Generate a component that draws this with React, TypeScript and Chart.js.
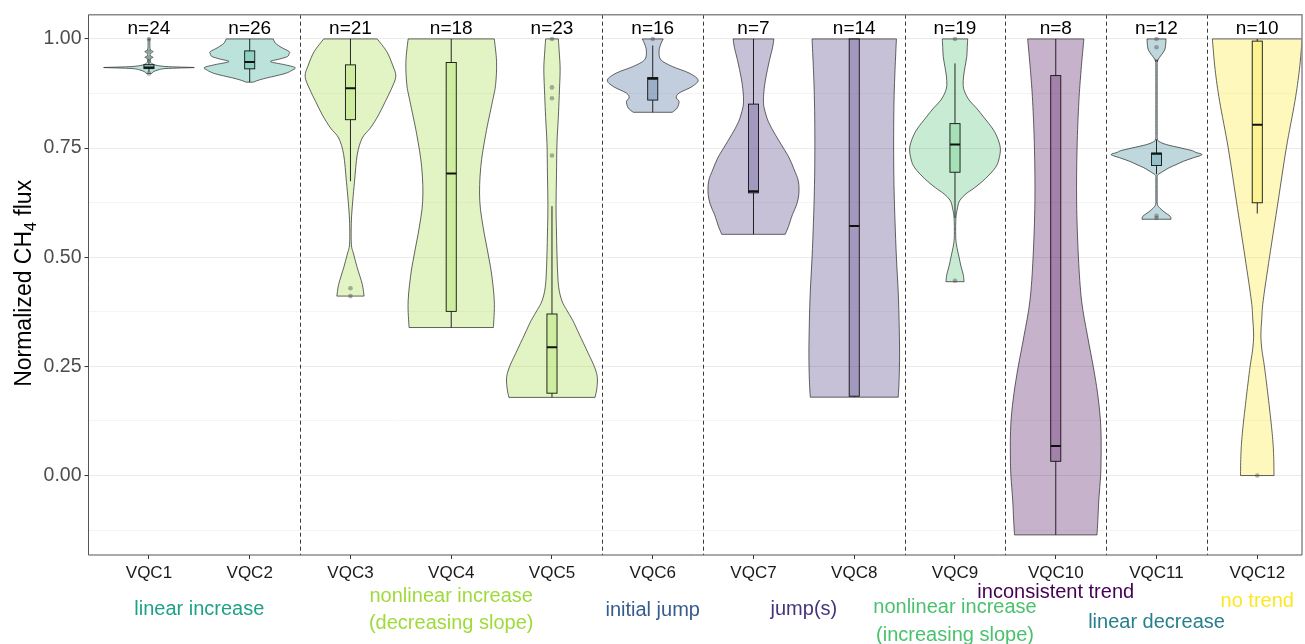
import React, { useEffect, useRef } from "react";
import { Chart, registerables } from "chart.js";

Chart.register(...registerables);

// ---------- data ----------
const categories = ["VQC1", "VQC2", "VQC3", "VQC4", "VQC5", "VQC6", "VQC7", "VQC8", "VQC9", "VQC10", "VQC11", "VQC12"];
const sampleSizes = [24, 26, 21, 18, 23, 16, 7, 14, 19, 8, 12, 10];

const trendNames = [
  "linear increase",
  "nonlinear increase (decreasing slope)",
  "initial jump",
  "jump(s)",
  "nonlinear increase (increasing slope)",
  "inconsistent trend",
  "linear decrease",
  "no trend",
];
const trendLabelLines = [
  ["linear increase"],
  ["nonlinear increase", "(decreasing slope)"],
  ["initial jump"],
  ["jump(s)"],
  ["nonlinear increase", "(increasing slope)"],
  ["inconsistent trend"],
  ["linear decrease"],
  ["no trend"],
];
const trendColors = ["#1FA187", "#9FDA3A", "#365C8D", "#46337E", "#4AC16D", "#440154", "#277F8E", "#FDE725"];
const categoryTrend = [0, 0, 1, 1, 1, 2, 3, 3, 4, 5, 6, 7];

// violin outlines: [normalized flux, relative density (1 = widest)]
const densityVQC1 = [[0.921, 0.06], [0.925, 0.1], [0.929, 0.2], [0.932, 0.35], [0.9335, 0.7], [0.9345, 1.0], [0.9355, 0.7], [0.937, 0.35], [0.94, 0.15], [0.944, 0.06], [0.949, 0.03], [0.955, 0.04], [0.958, 0.09], [0.961, 0.04], [0.966, 0.03], [0.971, 0.09], [0.975, 0.03], [0.985, 0.02], [1.0, 0.02]];
const densityVQC2 = [[0.901, 0.08], [0.905, 0.18], [0.91, 0.35], [0.916, 0.6], [0.9215, 0.8], [0.928, 0.93], [0.9345, 1.0], [0.941, 0.77], [0.948, 0.46], [0.954, 0.66], [0.9596, 0.83], [0.966, 0.87], [0.971, 0.87], [0.98, 0.71], [0.99, 0.57], [1.0, 0.52]];
const densityVQC3 = [[0.411, 0.3], [0.438, 0.26], [0.476, 0.15], [0.507, 0.07], [0.53, 0.02], [0.583, 0.02], [0.628, 0.05], [0.674, 0.09], [0.735, 0.15], [0.773, 0.26], [0.796, 0.44], [0.826, 0.62], [0.857, 0.77], [0.885, 0.9], [0.914, 1.0], [0.94, 0.93], [0.971, 0.8], [1.0, 0.59]];
const densityVQC4 = [[0.339, 0.93], [0.4, 0.95], [0.476, 0.87], [0.553, 0.73], [0.628, 0.63], [0.705, 0.65], [0.781, 0.76], [0.857, 0.91], [0.896, 0.98], [0.948, 1.0], [1.0, 0.95]];
const densityVQC5 = [[0.179, 0.95], [0.2, 0.99], [0.225, 1.0], [0.248, 0.94], [0.28, 0.8], [0.324, 0.6], [0.355, 0.46], [0.38, 0.32], [0.4, 0.22], [0.43, 0.15], [0.476, 0.12], [0.553, 0.1], [0.62, 0.09], [0.69, 0.1], [0.76, 0.11], [0.82, 0.14], [0.87, 0.16], [0.93, 0.18], [0.97, 0.16], [1.0, 0.14]];
const densityVQC6 = [[0.832, 0.43], [0.842, 0.54], [0.857, 0.58], [0.865, 0.52], [0.876, 0.58], [0.891, 0.87], [0.906, 1.0], [0.922, 0.8], [0.937, 0.43], [0.952, 0.18], [0.971, 0.14], [0.986, 0.17], [1.0, 0.23]];
const densityVQC7 = [[0.5525, 0.7], [0.57, 0.77], [0.598, 0.86], [0.62, 0.95], [0.644, 1.0], [0.674, 0.99], [0.7, 0.9], [0.727, 0.79], [0.75, 0.66], [0.781, 0.48], [0.81, 0.33], [0.84, 0.24], [0.857, 0.22], [0.88, 0.23], [0.91, 0.27], [0.95, 0.35], [0.98, 0.42], [1.0, 0.45]];
const densityVQC8 = [[0.1795, 0.97], [0.22, 0.99], [0.28, 1.0], [0.35, 0.99], [0.42, 0.97], [0.5, 0.93], [0.58, 0.9], [0.65, 0.88], [0.72, 0.87], [0.8, 0.87], [0.87, 0.88], [0.93, 0.9], [1.0, 0.93]];
const densityVQC9 = [[0.444, 0.2], [0.461, 0.18], [0.48, 0.13], [0.5, 0.09], [0.514, 0.06], [0.53, 0.03], [0.55, 0.015], [0.59, 0.02], [0.61, 0.05], [0.629, 0.1], [0.645, 0.24], [0.659, 0.43], [0.68, 0.67], [0.705, 0.89], [0.725, 0.97], [0.75, 1.0], [0.775, 0.93], [0.796, 0.82], [0.82, 0.64], [0.842, 0.47], [0.86, 0.31], [0.88, 0.21], [0.895, 0.18], [0.915, 0.19], [0.935, 0.22], [0.96, 0.26], [0.98, 0.27], [1.0, 0.28]];
const densityVQC10 = [[-0.136, 0.91], [-0.1, 0.93], [-0.056, 0.95], [0.0, 0.99], [0.04, 1.0], [0.09, 1.0], [0.134, 0.98], [0.19, 0.92], [0.248, 0.83], [0.32, 0.7], [0.4, 0.57], [0.5, 0.5], [0.628, 0.46], [0.75, 0.47], [0.857, 0.51], [0.93, 0.56], [1.0, 0.62]];
const densityVQC11 = [[0.587, 0.32], [0.594, 0.3], [0.603, 0.18], [0.612, 0.08], [0.621, 0.02], [0.64, 0.015], [0.68, 0.015], [0.688, 0.025], [0.697, 0.15], [0.705, 0.28], [0.712, 0.43], [0.72, 0.6], [0.727, 0.79], [0.735, 1.0], [0.74, 0.87], [0.744, 0.79], [0.75, 0.55], [0.758, 0.22], [0.765, 0.06], [0.772, 0.02], [0.8, 0.015], [0.94, 0.015], [0.948, 0.02], [0.957, 0.06], [0.965, 0.12], [0.975, 0.18], [0.985, 0.2], [1.0, 0.21]];
const densityVQC12 = [[0.0, 0.37], [0.05, 0.36], [0.096, 0.33], [0.172, 0.25], [0.248, 0.16], [0.29, 0.1], [0.324, 0.08], [0.36, 0.1], [0.4, 0.13], [0.5, 0.27], [0.628, 0.46], [0.75, 0.64], [0.857, 0.83], [0.93, 0.93], [1.0, 0.99]];

const violinDensities = [densityVQC1, densityVQC2, densityVQC3, densityVQC4, densityVQC5, densityVQC6, densityVQC7, densityVQC8, densityVQC9, densityVQC10, densityVQC11, densityVQC12];

// boxplot statistics
const boxLower = [0.932, 0.9315, 0.815, 0.376, 0.1886, 0.86, 0.6475, 0.1817, 0.6947, 0.0326, 0.71, 0.6247];
const boxMedian = [0.9345, 0.9474, 0.887, 0.692, 0.2936, 0.9087, 0.651, 0.5715, 0.758, 0.0676, 0.737, 0.8037];
const boxUpper = [0.941, 0.9726, 0.9406, 0.946, 0.37, 0.9116, 0.8507, 1.0, 0.806, 0.916, 0.7386, 0.995];
const whiskerLow = [0.925, 0.901, 0.674, 0.339, 0.179, 0.832, 0.5525, 0.1795, 0.59, -0.136, 0.69, 0.6];
const whiskerHigh = [0.954, 1.0, 1.0, 1.0, 0.617, 0.985, 1.0, 1.0, 0.944, 1.0, 0.77, 1.0];
const outlierValues = [[1.0, 0.971, 0.958, 0.921], [], [0.429, 0.411], [], [1.0, 0.889, 0.864, 0.733], [1.0], [], [], [1.0, 0.446], [], [1.0, 0.981, 0.595, 0.59], [0.0]];

const yTickValues = [-0.125, 0, 0.125, 0.25, 0.375, 0.5, 0.625, 0.75, 0.875, 1.0];

// ---------- layout / style ----------
const FONT = '"Liberation Sans", Arial, sans-serif';
const VIOLIN_HALF = 0.45;
const BOX_HALF = 0.05;
const trendLabelBaselines = [[615], [602, 629], [616], [615], [613, 641], [598], [628], [607]];

const isMajor = (v: number) => Math.abs(v * 4 - Math.round(v * 4)) < 1e-6;

function withAlpha(hex: string, a: number) {
  const n = parseInt(hex.slice(1), 16);
  return `rgba(${(n >> 16) & 255},${(n >> 8) & 255},${n & 255},${a})`;
}

function traceSmooth(ctx: CanvasRenderingContext2D, pts: number[][], move: boolean) {
  if (move) ctx.moveTo(pts[0][0], pts[0][1]);
  else ctx.lineTo(pts[0][0], pts[0][1]);
  for (let i = 0; i < pts.length - 1; i++) {
    const p0 = pts[Math.max(i - 1, 0)];
    const p1 = pts[i];
    const p2 = pts[i + 1];
    const p3 = pts[Math.min(i + 2, pts.length - 1)];
    ctx.bezierCurveTo(
      p1[0] + (p2[0] - p0[0]) / 6, p1[1] + (p2[1] - p0[1]) / 6,
      p2[0] - (p3[0] - p1[0]) / 6, p2[1] - (p3[1] - p1[1]) / 6,
      p2[0], p2[1]
    );
  }
}

const violinPlugin = {
  id: "violinsAndBoxes",
  beforeDatasetsDraw(chart: any) {
    const { ctx, chartArea, scales } = chart;
    const xs = scales.x;
    const ys = scales.y;
    ctx.save();
    ctx.beginPath();
    ctx.rect(chartArea.left, chartArea.top, chartArea.right - chartArea.left, chartArea.bottom - chartArea.top);
    ctx.clip();

    // dashed separators between trend groups
    ctx.strokeStyle = "#3a3a3a";
    ctx.lineWidth = 1;
    ctx.setLineDash([4, 3]);
    for (let i = 0; i < categories.length - 1; i++) {
      if (categoryTrend[i] !== categoryTrend[i + 1]) {
        const px = Math.round(xs.getPixelForValue(i + 1.5)) + 0.5;
        ctx.beginPath();
        ctx.moveTo(px, chartArea.top);
        ctx.lineTo(px, chartArea.bottom);
        ctx.stroke();
      }
    }
    ctx.setLineDash([]);

    violinDensities.forEach((profile, i) => {
      const c = i + 1;
      const color = trendColors[categoryTrend[i]];
      const right = profile.map(([v, d]) => [xs.getPixelForValue(c + d * VIOLIN_HALF), ys.getPixelForValue(v)]);
      const left = profile
        .slice()
        .reverse()
        .map(([v, d]) => [xs.getPixelForValue(c - d * VIOLIN_HALF), ys.getPixelForValue(v)]);
      ctx.beginPath();
      traceSmooth(ctx, right, true);
      traceSmooth(ctx, left, false);
      ctx.closePath();
      ctx.fillStyle = withAlpha(color, 0.3);
      ctx.fill();
      ctx.strokeStyle = "rgba(40,40,40,0.9)";
      ctx.lineWidth = 0.8;
      ctx.stroke();

      // boxplot
      const cx = xs.getPixelForValue(c);
      const bl = xs.getPixelForValue(c - BOX_HALF);
      const br = xs.getPixelForValue(c + BOX_HALF);
      const yq1 = ys.getPixelForValue(boxLower[i]);
      const yq3 = ys.getPixelForValue(boxUpper[i]);
      const ymed = ys.getPixelForValue(boxMedian[i]);
      ctx.strokeStyle = "#111";
      ctx.lineWidth = 0.9;
      ctx.beginPath();
      ctx.moveTo(cx, yq3);
      ctx.lineTo(cx, ys.getPixelForValue(whiskerHigh[i]));
      ctx.moveTo(cx, yq1);
      ctx.lineTo(cx, ys.getPixelForValue(whiskerLow[i]));
      ctx.stroke();
      ctx.fillStyle = withAlpha(color, 0.28);
      ctx.fillRect(bl, yq3, br - bl, yq1 - yq3);
      ctx.strokeRect(bl, yq3, br - bl, yq1 - yq3);
      ctx.lineWidth = 2;
      ctx.beginPath();
      ctx.moveTo(bl, ymed);
      ctx.lineTo(br, ymed);
      ctx.stroke();
    });
    ctx.restore();
  },
  afterDraw(chart: any) {
    const { ctx, chartArea, scales } = chart;
    const xs = scales.x;
    ctx.save();

    // panel border
    ctx.lineWidth = 1.5;
    ctx.strokeStyle = "#8a8a8a";
    ctx.beginPath();
    ctx.moveTo(chartArea.left, chartArea.top);
    ctx.lineTo(chartArea.right, chartArea.top);
    ctx.lineTo(chartArea.right, chartArea.bottom);
    ctx.stroke();
    ctx.lineWidth = 1;
    ctx.strokeStyle = "#555";
    ctx.beginPath();
    ctx.moveTo(chartArea.left, chartArea.top);
    ctx.lineTo(chartArea.left, chartArea.bottom);
    ctx.lineTo(chartArea.right, chartArea.bottom);
    ctx.stroke();

    // sample sizes
    ctx.fillStyle = "#000";
    ctx.font = `19px ${FONT}`;
    ctx.textAlign = "center";
    ctx.textBaseline = "alphabetic";
    sampleSizes.forEach((n, i) => {
      ctx.fillText(`n=${n}`, xs.getPixelForValue(i + 1), chartArea.top + 19.5);
    });

    // trend group labels
    ctx.font = `20px ${FONT}`;
    trendNames.forEach((_, t) => {
      const members = categoryTrend.map((g, i) => (g === t ? i + 1 : null)).filter((v) => v !== null) as number[];
      const centre = members.reduce((a, b) => a + b, 0) / members.length;
      ctx.fillStyle = trendColors[t];
      trendLabelLines[t].forEach((line, k) => {
        ctx.fillText(line, xs.getPixelForValue(centre), trendLabelBaselines[t][k]);
      });
    });

    // y axis title with subscript
    const main1 = "Normalized CH";
    const sub = "4";
    const main2 = " flux";
    ctx.font = `23px ${FONT}`;
    const w1 = ctx.measureText(main1).width;
    const w3 = ctx.measureText(main2).width;
    ctx.font = `16px ${FONT}`;
    const w2 = ctx.measureText(sub).width;
    const total = w1 + w2 + w3;
    ctx.translate(30.5, (chartArea.top + chartArea.bottom) / 2 - 1.5);
    ctx.rotate(-Math.PI / 2);
    ctx.textAlign = "left";
    ctx.fillStyle = "#000";
    let px = -total / 2;
    ctx.font = `23px ${FONT}`;
    ctx.fillText(main1, px, 0);
    px += w1;
    ctx.font = `16px ${FONT}`;
    ctx.fillText(sub, px, 5);
    px += w2;
    ctx.font = `23px ${FONT}`;
    ctx.fillText(main2, px, 0);
    ctx.restore();
  },
};

export default function App() {
  const canvasRef = useRef<HTMLCanvasElement | null>(null);

  useEffect(() => {
    const canvas = canvasRef.current;
    if (!canvas) return;
    const outlierPoints: { x: number; y: number }[] = [];
    outlierValues.forEach((vals, i) => vals.forEach((v) => outlierPoints.push({ x: i + 1, y: v })));

    const chart = new Chart(canvas, {
      type: "scatter",
      data: {
        datasets: [
          {
            label: "outliers",
            data: outlierPoints,
            pointRadius: 2.3,
            pointHoverRadius: 2.3,
            pointBackgroundColor: "rgba(70,70,70,0.42)",
            pointBorderWidth: 0,
          },
        ],
      },
      options: {
        animation: false,
        responsive: false,
        maintainAspectRatio: false,
        events: [],
        layout: { padding: { top: 13, right: 3, bottom: 0, left: 0 } },
        plugins: { legend: { display: false }, tooltip: { enabled: false } },
        scales: {
          x: {
            type: "linear",
            min: 0.4,
            max: 12.444,
            afterBuildTicks: (s: any) => {
              s.ticks = categories.map((_, i) => ({ value: i + 1 }));
            },
            afterFit: (s: any) => {
              s.height = 89;
            },
            ticks: {
              autoSkip: false,
              maxRotation: 0,
              minRotation: 0,
              padding: 4,
              color: "#1a1a1a",
              font: { family: FONT, size: 17 },
              callback: (v: any) => categories[Math.round(Number(v)) - 1] ?? "",
            },
            grid: { drawOnChartArea: false, tickLength: 4, tickColor: "#333", tickWidth: 1 },
            border: { display: false },
          },
          y: {
            type: "linear",
            min: -0.182,
            max: 1.0555,
            afterBuildTicks: (s: any) => {
              s.ticks = yTickValues.map((v) => ({ value: v }));
            },
            afterFit: (s: any) => {
              s.width = 88.5;
            },
            ticks: {
              autoSkip: false,
              padding: 3,
              color: "#4d4d4d",
              font: { family: FONT, size: 19.5 },
              callback: (v: any) => (isMajor(Number(v)) ? Number(v).toFixed(2) : ""),
            },
            grid: {
              color: (c: any) => (c.tick && isMajor(c.tick.value) ? "#ebebeb" : "#f1f1f1"),
              lineWidth: (c: any) => (c.tick && isMajor(c.tick.value) ? 1.1 : 0.8),
              tickLength: 4,
              tickColor: (c: any) => (c.tick && isMajor(c.tick.value) ? "#333" : "rgba(0,0,0,0)"),
              tickWidth: 1,
            },
            border: { display: false },
          },
        },
      } as any,
      plugins: [violinPlugin],
    });
    return () => chart.destroy();
  }, []);

  return (
    <div style={{ position: "fixed", left: 0, top: 0, width: 1305, height: 644, background: "#fff", overflow: "hidden" }}>
      <canvas ref={canvasRef} width={1305} height={644} style={{ display: "block" }} />
    </div>
  );
}
